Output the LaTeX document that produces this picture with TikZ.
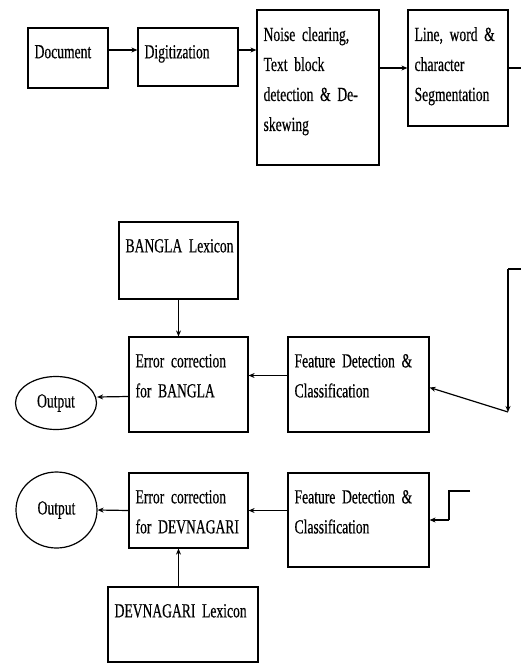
\documentclass[tikz,border=0pt]{standalone}
\usepackage{fontspec}
\setmainfont{Liberation Serif}[FakeStretch=0.68, FakeBold=0.4]
\usepackage{tikz}
\usetikzlibrary{arrows.meta, shapes}

\newcommand{\boxfont}{\fontsize{20}{30}\selectfont\spaceskip=3.4pt plus 1pt minus 0.5pt\relax}

\tikzset{
  blk/.style={draw=black, line width=1.2pt, rectangle, inner sep=0pt},
  oval/.style={draw=black, line width=1.2pt, ellipse, inner sep=0pt,
               font=\fontsize{20}{24}\selectfont},
  txt/.style={anchor=north west, inner sep=0pt, xshift=7pt, yshift=-17.5pt,
              text width=140pt, align=left, font=\boxfont},
}

\begin{document}
\begin{tikzpicture}[x=1pt, y=-1pt]
\useasboundingbox (0,0) rectangle (521,664);
%\fill[white] (0,0) rectangle (521,664);
\begin{scope}
    \node[blk, minimum width=80pt, minimum height=60pt, label={[txt]north west:Document}] (doc) at (68,58) {};
    \node[blk, minimum width=100pt, minimum height=58pt, label={[txt]north west:Digitization}] (digit) at (188,57) {};
    \node[blk, minimum width=122pt, minimum height=155pt,
          label={[txt]north west:{Noise clearing,\\Text block\\detection \& De-\\skewing}}] (noise) at (318,87.5) {};
    \node[blk, minimum width=100pt, minimum height=116pt,
          label={[txt]north west:{Line, word \&\\character\\Segmentation}}] (seg) at (458,68) {};

    \node[blk, minimum width=119pt, minimum height=77pt, label={[txt]north west:BANGLA Lexicon}] (blex) at (178.5,260.5) {};
    \node[blk, minimum width=119pt, minimum height=95pt,
          label={[txt]north west:{Error correction\\for BANGLA}}] (berr) at (188.5,384.5) {};
    \node[blk, minimum width=141pt, minimum height=95pt,
          label={[txt]north west:{Feature Detection \&\\Classification}}] (bfeat) at (358.5,384.5) {};
    \node[oval, minimum width=81pt, minimum height=53pt] (bout) at (56,403) {Output};

    \node[blk, minimum width=119pt, minimum height=75pt,
          label={[txt]north west:{Error correction\\for DEVNAGARI}}] (derr) at (188.5,510.5) {};
    \node[blk, minimum width=141pt, minimum height=94pt,
          label={[txt]north west:{Feature Detection \&\\Classification}}] (dfeat) at (358.5,520) {};
    \node[oval, minimum width=81pt, minimum height=76pt] (dout) at (56.5,510) {Output};
    \node[blk, minimum width=150pt, minimum height=75pt, label={[txt]north west:DEVNAGARI Lexicon}] (dlex) at (183,624.5) {};

    \coordinate (out1) at (521,68);
    \coordinate (in2) at (521,269);
    \coordinate (turn2) at (508,269);
    \coordinate (bend2) at (508,412);
    \coordinate (in3) at (470,491);
    \coordinate (turn3a) at (449,491);
    \coordinate (turn3b) at (449,520);
\end{scope}

\begin{scope}[>={Stealth[black, length=6pt, width=5pt]},
              every edge/.style={draw=black, line width=1.2pt}]
    \path [->] ([yshift=8pt]doc.east) edge ([yshift=7pt]digit.west);
    \path [->] ([yshift=7pt]digit.east) edge ([yshift=37.5pt]noise.west);
    \path [->] (noise.east |- seg.west) edge (seg.west);
    \path [-] (seg.east) edge (out1);

    \draw [line width=1.2pt] (in2) -- (turn2);
    \path [->] (turn2) edge (bend2);
    \path [->] (bend2) edge ([yshift=-3pt]bfeat.east);
    \path [->] ([yshift=9pt]bfeat.west) edge ([yshift=9pt]berr.east);
    \path [->] ([yshift=-12pt]berr.west) edge ([yshift=6pt]bout.east);
    \path [->] (blex.south) edge (blex.south |- berr.north);

    \draw [line width=1.2pt] (in3) -- (turn3a) -- (turn3b);
    \path [->] (turn3b) edge (dfeat.east);
    \path [->] (derr.east -| dfeat.west) edge (derr.east);
    \path [->] (derr.west) edge (dout.east);
    \path [->] (blex.south |- dlex.north) edge (blex.south |- derr.south);
\end{scope}
\end{tikzpicture}
\end{document}
